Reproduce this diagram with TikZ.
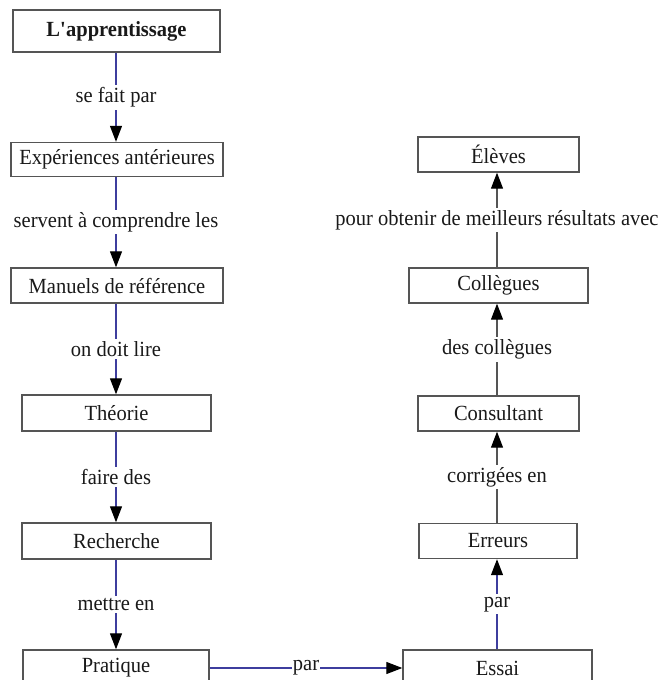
\documentclass[tikz,border=0pt]{standalone}
\usepackage{fontspec}
\setmainfont{Liberation Serif}[FakeStretch=0.95]
\usetikzlibrary{arrows.meta}
\definecolor{linkblue}{RGB}{62,62,158}
\definecolor{boxgray}{RGB}{85,85,85}

\begin{document}
\begin{tikzpicture}[x=0.5pt, y=-0.5pt,
    box/.style={draw=boxgray, line width=0.7pt, fill=white, inner sep=0pt, text=black!90, font=\fontsize{10.8}{13}\selectfont},
    tag/.style={fill=white, inner sep=1.2pt, text=black!90, font=\fontsize{10.8}{13}\selectfont},
    blue link/.style={draw=linkblue, line width=0.6pt, -{Triangle[length=8pt, width=6pt, color=black]}},
    grey link/.style={draw=boxgray, line width=0.6pt, -{Triangle[length=8pt, width=6pt, color=black]}}]
    \useasboundingbox (0,0) rectangle (661,680);

    % left column
    \node[box, minimum width=103.5pt, minimum height=21pt, font=\fontsize{10.8}{13}\selectfont\bfseries] (appr) at (116.5,31) {L\textquotesingle apprentissage};
    \node[box, minimum width=106pt, minimum height=17pt] (exper) at (117,159.5) {Expériences antérieures};
    \node[box, minimum width=106pt, minimum height=17.5pt] (manuels) at (117,285.5) {Manuels de référence};
    \node[box, minimum width=94.5pt, minimum height=18pt] (theorie) at (116.5,413) {Théorie};
    \node[box, minimum width=94.5pt, minimum height=18pt] (recherche) at (116.5,541) {Recherche};
    \node[box, minimum width=93pt, minimum height=18pt] (pratique) at (116,668) {Pratique};

    % right column
    \node[box, minimum width=80.5pt, minimum height=17.5pt] (eleves) at (498.5,154.5) {Élèves};
    \node[box, minimum width=89.5pt, minimum height=17.5pt] (collegues) at (498.5,285.5) {Collègues};
    \node[box, minimum width=80.5pt, minimum height=17.5pt] (consultant) at (498.5,413.5) {Consultant};
    \node[box, minimum width=79pt, minimum height=17.5pt] (erreurs) at (498,541) {Erreurs};
    \node[box, minimum width=94.5pt, minimum height=18pt] (essai) at (497.5,668) {Essai};

    % links
    \draw[blue link] (appr.south -| 116,0) -- (exper.north -| 116,0) node[tag, midway] {se fait par};
    \draw[blue link] (exper.south -| 116,0) -- (manuels.north -| 116,0) node[tag, midway] {servent à comprendre les};
    \draw[blue link] (manuels.south -| 116,0) -- (theorie.north -| 116,0) node[tag, midway] {on doit lire};
    \draw[blue link] (theorie.south -| 116,0) -- (recherche.north -| 116,0) node[tag, midway] {faire des};
    \draw[blue link] (recherche.south -| 116,0) -- (pratique.north -| 116,0) node[tag, midway] {mettre en};
    \draw[blue link] (pratique.east) -- (essai.west) node[tag, midway, inner sep=0.6pt] {par};
    \draw[blue link] (essai.north -| 497,0) -- (erreurs.south -| 497,0) node[tag, midway] {par};
    \draw[grey link] (erreurs.north -| 497,0) -- (consultant.south -| 497,0) node[tag, midway] {corrigées en};
    \draw[grey link] (consultant.north -| 497,0) -- (collegues.south -| 497,0) node[tag, midway] {des collègues};
    \draw[grey link] (collegues.north -| 497,0) -- (eleves.south -| 497,0) node[tag, midway] {pour obtenir de meilleurs résultats avec};
\end{tikzpicture}
\end{document}
